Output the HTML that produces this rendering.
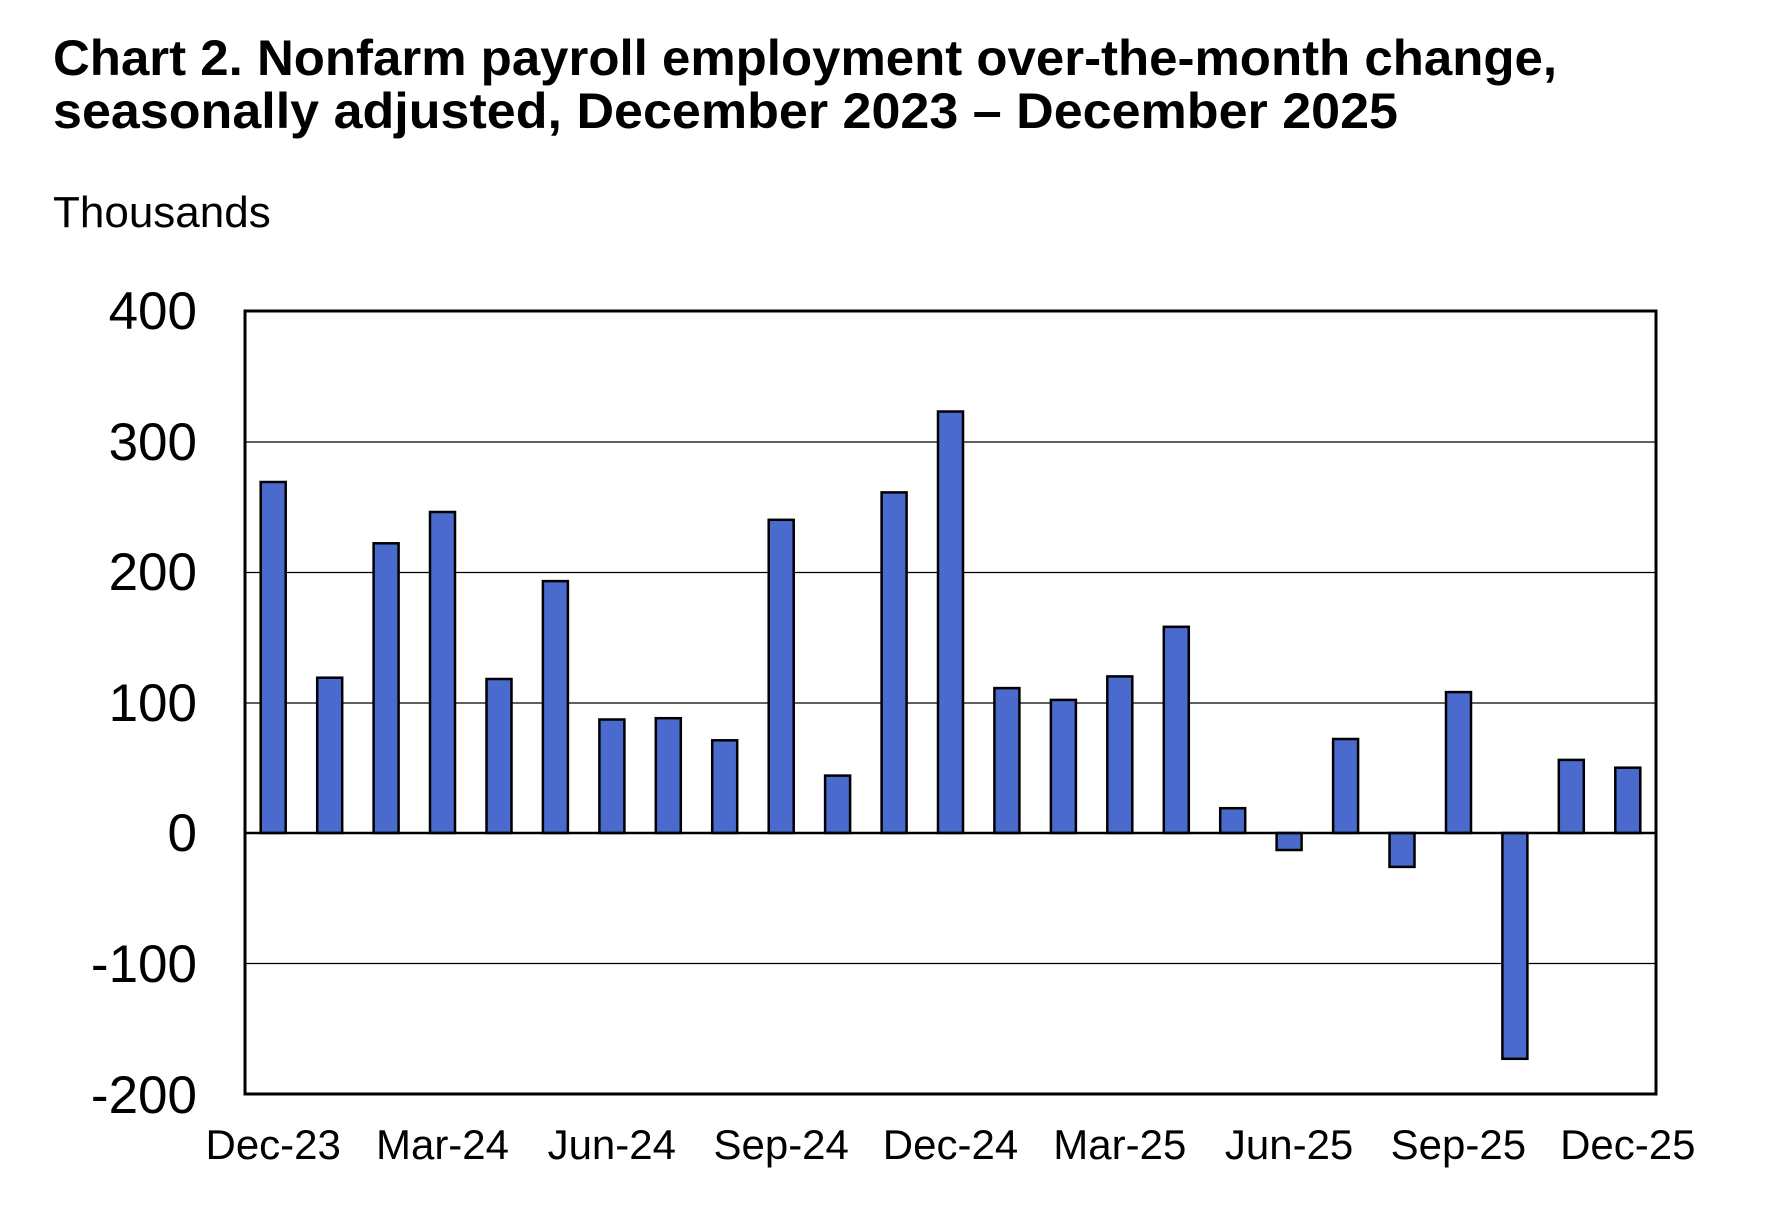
<!DOCTYPE html>
<html><head><meta charset="utf-8"><style>html,body{margin:0;padding:0;background:#fff}svg{display:block}</style></head>
<body>
<svg width="1768" height="1232" viewBox="0 0 1768 1232" xmlns="http://www.w3.org/2000/svg" font-family="'Liberation Sans', Arial, sans-serif">
<text x="53" y="75" font-size="50" font-weight="bold" textLength="1504" lengthAdjust="spacingAndGlyphs">Chart 2. Nonfarm payroll employment over-the-month change,</text>
<text x="53" y="128" font-size="50" font-weight="bold" textLength="1345" lengthAdjust="spacingAndGlyphs">seasonally adjusted, December 2023 – December 2025</text>
<text x="53" y="227" font-size="44">Thousands</text>
<g stroke="#000" stroke-width="1.3">
<line x1="245" y1="442" x2="1656" y2="442"/>
<line x1="245" y1="572.5" x2="1656" y2="572.5"/>
<line x1="245" y1="703" x2="1656" y2="703"/>
<line x1="245" y1="963.5" x2="1656" y2="963.5"/>
</g>
<g font-size="53" text-anchor="end">
<text x="197" y="329">400</text>
<text x="197" y="460">300</text>
<text x="197" y="590">200</text>
<text x="197" y="721">100</text>
<text x="197" y="851">0</text>
<text x="197" y="982">-100</text>
<text x="197" y="1113">-200</text>
</g>
<g fill="#4a6acd" stroke="#000" stroke-width="2.5">
<rect x="260.7" y="482.0" width="25" height="351.0"/>
<rect x="317.2" y="677.7" width="25" height="155.3"/>
<rect x="373.6" y="543.3" width="25" height="289.7"/>
<rect x="430.0" y="512.0" width="25" height="321.0"/>
<rect x="486.5" y="679.0" width="25" height="154.0"/>
<rect x="542.9" y="581.1" width="25" height="251.9"/>
<rect x="599.4" y="719.5" width="25" height="113.5"/>
<rect x="655.8" y="718.2" width="25" height="114.8"/>
<rect x="712.2" y="740.3" width="25" height="92.7"/>
<rect x="768.7" y="519.8" width="25" height="313.2"/>
<rect x="825.1" y="775.6" width="25" height="57.4"/>
<rect x="881.6" y="492.4" width="25" height="340.6"/>
<rect x="938.0" y="411.5" width="25" height="421.5"/>
<rect x="994.4" y="688.1" width="25" height="144.9"/>
<rect x="1050.9" y="699.9" width="25" height="133.1"/>
<rect x="1107.3" y="676.4" width="25" height="156.6"/>
<rect x="1163.8" y="626.8" width="25" height="206.2"/>
<rect x="1220.2" y="808.2" width="25" height="24.8"/>
<rect x="1276.6" y="833" width="25" height="17.0"/>
<rect x="1333.1" y="739.0" width="25" height="94.0"/>
<rect x="1389.5" y="833" width="25" height="33.9"/>
<rect x="1446.0" y="692.1" width="25" height="140.9"/>
<rect x="1502.4" y="833" width="25" height="225.8"/>
<rect x="1558.8" y="759.9" width="25" height="73.1"/>
<rect x="1615.3" y="767.7" width="25" height="65.3"/>
</g>
<line x1="245" y1="833" x2="1656" y2="833" stroke="#000" stroke-width="2.5"/>
<rect x="245" y="311" width="1411" height="783" fill="none" stroke="#000" stroke-width="3"/>
<g font-size="42" text-anchor="middle">
<text x="273.2" y="1159">Dec-23</text>
<text x="442.5" y="1159">Mar-24</text>
<text x="611.8" y="1159">Jun-24</text>
<text x="781.2" y="1159">Sep-24</text>
<text x="950.5" y="1159">Dec-24</text>
<text x="1119.8" y="1159">Mar-25</text>
<text x="1289.1" y="1159">Jun-25</text>
<text x="1458.4" y="1159">Sep-25</text>
<text x="1627.8" y="1159">Dec-25</text>
</g>
</svg>
</body></html>
